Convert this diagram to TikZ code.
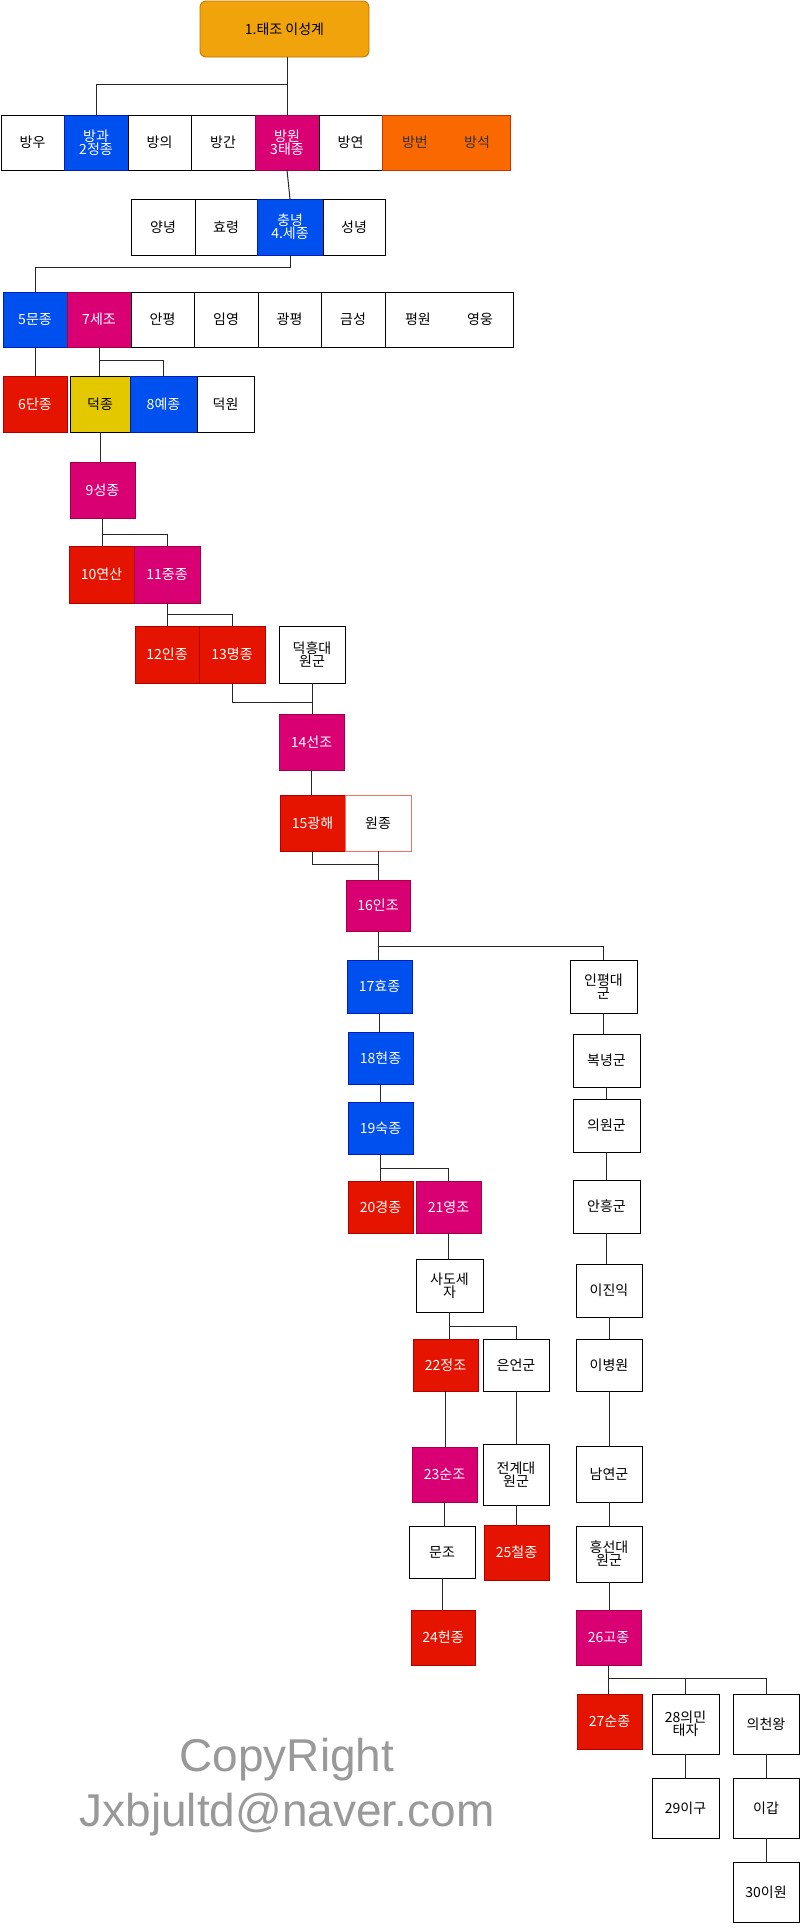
\documentclass[tikz,border=0pt]{standalone}
\usepackage{fontspec}
\setmainfont{Noto Sans CJK KR}
\newfontfamily\cpfont{Liberation Sans}
\definecolor{cBlue}{HTML}{0050EF}\definecolor{cBlueD}{HTML}{001DBC}
\definecolor{cMag}{HTML}{D80073}\definecolor{cMagD}{HTML}{A50040}
\definecolor{cRed}{HTML}{E51400}\definecolor{cRedD}{HTML}{B20000}
\definecolor{cOr}{HTML}{FA6800}\definecolor{cOrD}{HTML}{C73500}
\definecolor{cYel}{HTML}{E3C800}\definecolor{cYelD}{HTML}{B09500}
\definecolor{cTop}{HTML}{F0A30A}\definecolor{cTopD}{HTML}{BD7000}
\newcommand\bx[7]{\pgfmathsetmacro\bw{#4-#2}\pgfmathsetmacro\bh{#5-#3}%
\node[#6,minimum width=\bw pt,minimum height=\bh pt] (#1) at ({(#2+#4)/2},{-(#3+#5)/2}) {#7};}
\begin{document}
\begin{tikzpicture}[x=1pt,y=1pt,
  every node/.style={inner sep=0pt,outer sep=0pt,align=center,font=\fontsize{14}{16}\selectfont},
  wb/.style={draw=black,fill=white,line width=1pt},
  bl/.style={draw=cBlueD,fill=cBlue,text=white,line width=0.5pt},
  mg/.style={draw=cMagD,fill=cMag,text=white,line width=0.5pt},
  rd/.style={draw=cRedD,fill=cRed,text=white,line width=0.5pt},
  og/.style={draw=cOrD,fill=cOr,text=black!80,line width=0.8pt},
  yl/.style={draw=black,fill=cYel,text=black,line width=1pt},
  tp/.style={draw=cTopD,fill=cTop,rounded corners=6pt,line width=0.8pt},
  ln/.style={draw=black!85,line width=1pt}]
\useasboundingbox (0,0) rectangle (800,-1928);
\bx{taejo}{200}{1}{369}{57}{tp}{1.태조 이성계}
\bx{bangu}{1}{115}{64}{170}{wb}{방우}
\bx{banggwa}{64}{115}{128}{170}{bl}{방과\\[-3pt]2정종}
\bx{bangui}{128}{115}{191}{170}{wb}{방의}
\bx{banggan}{191}{115}{255}{170}{wb}{방간}
\bx{bangwon}{255}{115}{319}{170}{mg}{방원\\[-3pt]3태종}
\bx{bangyeon}{319}{115}{382}{170}{wb}{방연}
\bx{bangbeon}{382}{115}{510}{170}{og}{방번\hspace{2.6em}방석}
\bx{yangnyeong}{131}{199}{195}{255}{wb}{양녕}
\bx{hyoryeong}{195}{199}{257}{255}{wb}{효령}
\bx{sejong}{257}{199}{323}{255}{bl}{충녕\\[-3pt]4.세종}
\bx{seongnyeong}{323}{199}{385}{255}{wb}{성녕}
\bx{munjong}{3}{292}{67}{347}{bl}{5문종}
\bx{sejo}{67}{292}{131}{347}{mg}{7세조}
\bx{anpyeong}{131}{292}{194}{347}{wb}{안평}
\bx{imyeong}{194}{292}{258}{347}{wb}{임영}
\bx{gwangpyeong}{258}{292}{321}{347}{wb}{광평}
\bx{geumseong}{321}{292}{385}{347}{wb}{금성}
\bx{pyeongwon}{385}{292}{513}{347}{wb}{평원\hspace{2.6em}영웅}
\bx{danjong}{3}{376}{67}{432}{rd}{6단종}
\bx{deokjong}{70}{376}{130}{432}{yl}{덕종}
\bx{yejong}{130}{376}{197}{432}{bl}{8예종}
\bx{deokwon}{197}{376}{254}{432}{wb}{덕원}
\bx{seongjong}{70}{462}{135}{518}{mg}{9성종}
\bx{yeonsan}{69}{546}{134}{603}{rd}{10연산}
\bx{jungjong}{134}{546}{200}{603}{mg}{11중종}
\bx{injong}{135}{626}{199}{683}{rd}{12인종}
\bx{myeongjong}{199}{626}{265}{683}{rd}{13명종}
\bx{deokheung}{279}{626}{345}{683}{wb}{덕흥대\\[-3pt]원군}
\bx{seonjo}{279}{714}{344}{770}{mg}{14선조}
\bx{gwanghae}{280}{795}{345}{851}{rd}{15광해}
\bx{wonjong}{345}{795}{411}{851}{draw=cRed!60,fill=white,line width=1pt}{원종}
\bx{injo}{346}{880}{410}{931}{mg}{16인조}
\bx{hyojong}{347}{960}{412}{1013}{bl}{17효종}
\bx{hyeonjong}{348}{1032}{413}{1084}{bl}{18현종}
\bx{sukjong}{348}{1102}{413}{1154}{bl}{19숙종}
\bx{inpyeong}{570}{960}{637}{1013}{wb}{인평대\\[-3pt]군}
\bx{boknyeong}{573}{1034}{640}{1087}{wb}{복녕군}
\bx{uiwon}{573}{1099}{640}{1152}{wb}{의원군}
\bx{anheung}{573}{1180}{640}{1233}{wb}{안흥군}
\bx{ijinik}{576}{1264}{642}{1317}{wb}{이진익}
\bx{ibyeongwon}{576}{1339}{642}{1391}{wb}{이병원}
\bx{gyeongjong}{348}{1181}{413}{1233}{rd}{20경종}
\bx{yeongjo}{416}{1181}{481}{1233}{mg}{21영조}
\bx{sado}{416}{1259}{483}{1312}{wb}{사도세\\[-3pt]자}
\bx{jeongjo}{413}{1339}{478}{1391}{rd}{22정조}
\bx{euneon}{483}{1339}{549}{1391}{wb}{은언군}
\bx{sunjo}{412}{1447}{477}{1502}{mg}{23순조}
\bx{jeongye}{483}{1444}{549}{1505}{wb}{전계대\\[-3pt]원군}
\bx{namyeon}{576}{1446}{642}{1502}{wb}{남연군}
\bx{munjo}{409}{1526}{475}{1578}{wb}{문조}
\bx{cheoljong}{484}{1525}{549}{1580}{rd}{25철종}
\bx{heungseon}{576}{1526}{642}{1582}{wb}{흥선대\\[-3pt]원군}
\bx{heonjong}{411}{1610}{475}{1665}{rd}{24헌종}
\bx{gojong}{576}{1610}{641}{1665}{mg}{26고종}
\bx{sunjong}{577}{1694}{642}{1749}{rd}{27순종}
\bx{uimin}{652}{1694}{719}{1754}{wb}{28의민\\[-3pt]태자}
\bx{uicheon}{733}{1694}{799}{1754}{wb}{의천왕}
\bx{igu}{652}{1778}{719}{1838}{wb}{29이구}
\bx{igap}{733}{1778}{799}{1838}{wb}{이갑}
\bx{iwon}{733}{1862}{799}{1922}{wb}{30이원}
\node[text=black!40,font=\cpfont\fontsize{46}{52}\selectfont] (cp) at (287,-1760) {CopyRight};
\node[text=black!40,font=\cpfont\fontsize{46}{52}\selectfont] (mail) at (287,-1815) {Jxbjultd@naver.com};
% connectors
\draw[ln] (bangwon.north) -- (bangwon.north |- taejo.south);
\draw[ln] (bangwon.north |- 0,-84) -| (banggwa.north);
\draw[ln] (bangwon.south) -- (sejong.north);
\draw[ln] (sejong.south) |- (munjong.north |- 0,-267) -- (munjong.north);
\draw[ln] (munjong.south) -- (danjong.north);
\draw[ln] (sejo.south) -- (sejo.south |- deokjong.north);
\draw[ln] (sejo.south |- 0,-360) -| (yejong.north);
\draw[ln] (deokjong.south) -- (deokjong.south |- seongjong.north);
\draw[ln] (seongjong.south) -- (seongjong.south |- yeonsan.north);
\draw[ln] (seongjong.south |- 0,-534) -| (jungjong.north);
\draw[ln] (jungjong.south) -- (jungjong.south |- injong.north);
\draw[ln] (jungjong.south |- 0,-614) -| (myeongjong.north);
\draw[ln] (myeongjong.south) |- (deokheung.south |- 0,-702);
\draw[ln] (deokheung.south) -- (deokheung.south |- seonjo.north);
\draw[ln] (seonjo.south) -- (seonjo.south |- gwanghae.north);
\draw[ln] (gwanghae.south) |- (wonjong.south |- 0,-864);
\draw[ln] (wonjong.south) -- (wonjong.south |- injo.north);
\draw[ln] (injo.south) -- (injo.south |- hyojong.north);
\draw[ln] (injo.south |- 0,-946) -| (inpyeong.north);
\draw[ln] (hyojong.south) -- (hyojong.south |- hyeonjong.north);
\draw[ln] (hyeonjong.south) -- (hyeonjong.south |- sukjong.north);
\draw[ln] (sukjong.south) -- (sukjong.south |- gyeongjong.north);
\draw[ln] (sukjong.south |- 0,-1168) -| (yeongjo.north);
\draw[ln] (yeongjo.south) -- (yeongjo.south |- sado.north);
\draw[ln] (sado.south) -- (sado.south |- jeongjo.north);
\draw[ln] (sado.south |- 0,-1326) -| (euneon.north);
\draw[ln] (jeongjo.south) -- (jeongjo.south |- sunjo.north);
\draw[ln] (sunjo.south) -- (sunjo.south |- munjo.north);
\draw[ln] (munjo.south) -- (munjo.south |- heonjong.north);
\draw[ln] (euneon.south) -- (euneon.south |- jeongye.north);
\draw[ln] (jeongye.south) -- (jeongye.south |- cheoljong.north);
\draw[ln] (inpyeong.south) -- (inpyeong.south |- boknyeong.north);
\draw[ln] (boknyeong.south) -- (boknyeong.south |- uiwon.north);
\draw[ln] (uiwon.south) -- (uiwon.south |- anheung.north);
\draw[ln] (anheung.south) -- (anheung.south |- ijinik.north);
\draw[ln] (ijinik.south) -- (ijinik.south |- ibyeongwon.north);
\draw[ln] (ibyeongwon.south) -- (ibyeongwon.south |- namyeon.north);
\draw[ln] (namyeon.south) -- (namyeon.south |- heungseon.north);
\draw[ln] (heungseon.south) -- (heungseon.south |- gojong.north);
\draw[ln] (gojong.south) -- (gojong.south |- sunjong.north);
\draw[ln] (gojong.south |- 0,-1678) -| (uimin.north);
\draw[ln] (gojong.south |- 0,-1678) -| (uicheon.north);
\draw[ln] (uimin.south) -- (igu.north);
\draw[ln] (uicheon.south) -- (igap.north);
\draw[ln] (igap.south) -- (iwon.north);
\end{tikzpicture}
\end{document}
